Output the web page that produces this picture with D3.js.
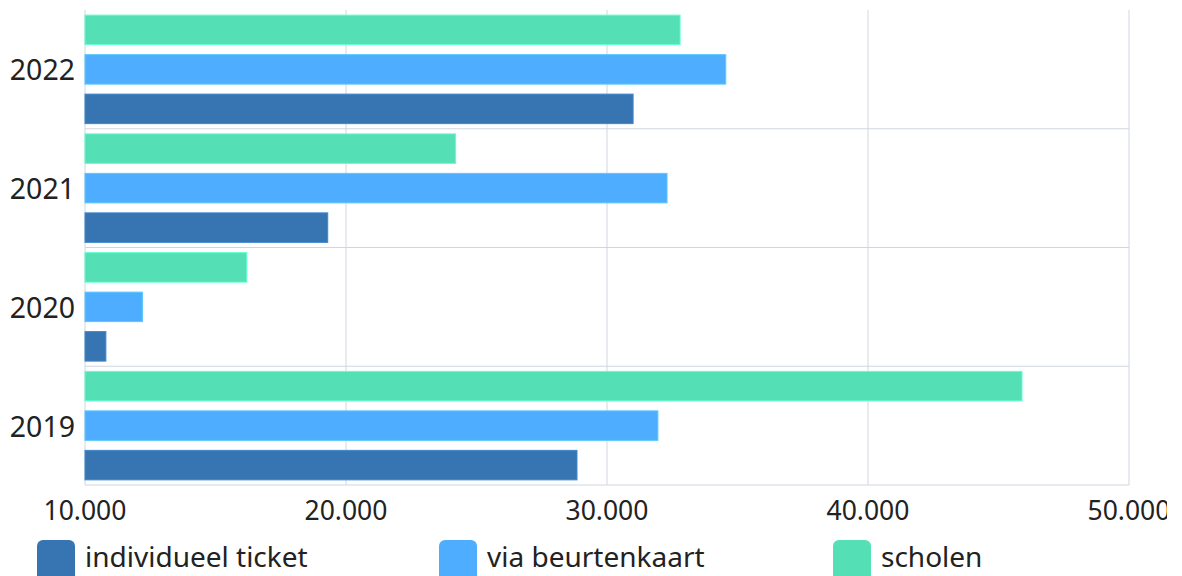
<!DOCTYPE html>
<html>
<head>
<meta charset="utf-8">
<script src="https://cdn.jsdelivr.net/npm/d3@7"></script>
<style>
  body { margin: 0; background: #fff; }
  #chart { width: 1182px; height: 576px; overflow: hidden; }
  text { font-family: "Noto Sans", "Open Sans", sans-serif; }
</style>
</head>
<body>
<div id="chart"></div>
<script>
// data
const years = ["2022", "2021", "2020", "2019"];
const series = ["individueel ticket", "via beurtenkaart", "scholen"];
const colors = ["#3675b2", "#4eadff", "#54dfb5"];
const individueel = [31000, 19300, 10800, 28850];
const beurtenkaart = [34550, 32300, 12200, 31950];
const scholen = [32800, 24200, 16200, 45900];
const xTicks = [10000, 20000, 30000, 40000, 50000];

const values = [individueel, beurtenkaart, scholen];

// dimensions of the plot area
const margin = { top: 10, right: 53, bottom: 91, left: 85 },
      width = 1182 - margin.left - margin.right,
      height = 576 - margin.top - margin.bottom;

const svg = d3.select("#chart").append("svg")
    .attr("width", 1167)
    .attr("height", 576);

const g = svg.append("g")
    .attr("transform", `translate(${margin.left}, ${margin.top})`);

const x = d3.scaleLinear().domain([10000, 50000]).range([0, width]);
const y = d3.scaleBand().domain(years).range([0, height]);

// bars inside a year: scholen on top, individueel at the bottom
const inner = d3.scaleBand()
    .domain(series.slice().reverse())
    .range([0, y.bandwidth()])
    .paddingInner(0.253)
    .paddingOuter(0.13);

// grid: vertical lines at ticks
g.append("g").selectAll("line")
    .data(xTicks)
    .join("line")
    .attr("x1", d => x(d)).attr("x2", d => x(d))
    .attr("y1", 0).attr("y2", height)
    .attr("stroke", "#d0d6df")
    .attr("stroke-width", 1);

// grid: lines under each year band
g.append("g").selectAll("line")
    .data(years)
    .join("line")
    .attr("x1", 0).attr("x2", width)
    .attr("y1", d => y(d) + y.bandwidth())
    .attr("y2", d => y(d) + y.bandwidth())
    .attr("stroke", "#d0d6df")
    .attr("stroke-width", 1);

// bars
series.forEach((s, si) => {
    g.append("g").selectAll("rect")
        .data(years.map((yr, i) => ({ year: yr, value: values[si][i] })))
        .join("rect")
        .attr("x", x(10000))
        .attr("y", d => y(d.year) + inner(s))
        .attr("width", d => x(d.value) - x(10000))
        .attr("height", inner.bandwidth())
        .attr("fill", colors[si])
        .attr("stroke", d3.color(colors[si]).brighter(0.4))
        .attr("stroke-width", 1);
});

// y axis labels
g.append("g").selectAll("text")
    .data(years)
    .join("text")
    .attr("x", -10)
    .attr("y", d => y(d) + y.bandwidth() / 2)
    .attr("text-anchor", "end")
    .attr("dominant-baseline", "central")
    .attr("font-size", 28.5)
    .attr("fill", "#222")
    .text(d => d);

// x axis labels
const fmt = d3.formatLocale({ decimal: ",", thousands: ".", grouping: [3], currency: ["€", ""] }).format(",d");
g.append("g").selectAll("text")
    .data(xTicks)
    .join("text")
    .attr("x", d => x(d))
    .attr("y", height + 35)
    .attr("text-anchor", "middle")
    .attr("font-size", 26.5)
    .attr("fill", "#222")
    .text(d => fmt(d));

// legend
const legendX = [37, 439, 833];
const legend = svg.append("g").selectAll("g")
    .data(series)
    .join("g")
    .attr("transform", (d, i) => `translate(${legendX[i]}, 540)`);

legend.append("rect")
    .attr("width", 38)
    .attr("height", 42)
    .attr("rx", 6)
    .attr("fill", (d, i) => colors[i]);

legend.append("text")
    .attr("x", 48)
    .attr("y", 27)
    .attr("font-size", 28)
    .attr("fill", "#222")
    .text(d => d);
</script>
</body>
</html>
